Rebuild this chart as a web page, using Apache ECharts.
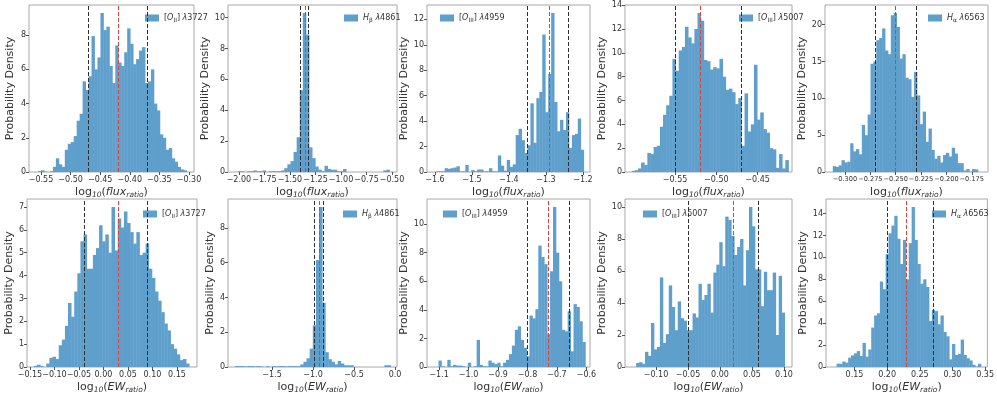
<!DOCTYPE html>
<html>
<head>
<meta charset="utf-8">
<script src="https://cdn.jsdelivr.net/npm/echarts@6/dist/echarts.min.js"></script>
<style>
html, body { margin: 0; padding: 0; background: #fff; }
#chart { width: 997px; height: 396px; }
</style>
</head>
<body>
<div id="chart"></div>
<script>
// emission lines, one panel per line (top: flux ratio, bottom: EW ratio)
const lineKeys = ['OII3727', 'Hb4861', 'OIII4959', 'OIII5007', 'Ha6563'];
const lineLabels = [
	'[{i|O}{sub|II}] {i|λ}3727',
	'{i|H}{sub|β} {i|λ}4861',
	'[{i|O}{sub|III}] {i|λ}4959',
	'[{i|O}{sub|III}] {i|λ}5007',
	'{i|H}{sub|α} {i|λ}6563'
];

// histogram densities, log10(flux_ratio)
const fluxOII = [0.05,0.1,0.03,0,0.05,0.3,0.8,0.45,0.3,1.3, 1.65,1.75,2.1,3.0,3.4,5.3,4.8,5.6,7.95,6.0, 6.7,9.3,8.3,8.5,6.2,5.2,7.4,6.4,6.2,7.0, 8.4,7.5,6.3,6.6,7.1,7.3,5.2,5.3,6.0,4.0, 3.6,2.2,2.0,1.3,1.4,0.8,0.6,0.3,0.15,0.1];
const fluxHb = [0.05,0.05,0,0.05,0.05,0.1,0.05,0.05,0.1,0, 0.05,0.05,0.05,0.05,0.1,0.25,0.5,0.7,1.3,2.25, 5.3,10.3,8.9,1.6,0.9,0.35,0.15,0.05,0.4,0.2, 0.15,0.15,0.05,0.05,0.2,0,0,0,0,0, 0,0,0,0,0,0,0,0.1,0.15,0];
const fluxOIII4959 = [0.05,0.05,0.05,0.3,0.25,0.3,0.35,0.45,0.05,0.05, 0.55,0,0.15,0.05,0.2,0.2,0.05,0.05,0.3,0.05, 0.05,1.3,0.5,0.1,0.95,0.4,0.6,2.9,3.4,2.5, 1.5,2.1,5.4,2.3,5.8,6.3,10.8,4.7,7.7,12.5, 5.5,3.2,4.1,3.3,4.7,1.9,2.9,3.0,4.2,1.75];
const fluxOIII5007 = [0.1,0.15,0.3,0.8,0.6,1.6,1.5,2.1,2.2,3.8, 4.8,5.6,6.4,9.5,8.5,10.2,10.5,12.2,11.3,10.8, 12.0,13.35,12.7,9.4,9.3,8.6,8.8,8.7,9.5,8.0, 6.9,7.0,6.7,5.7,6.2,2.2,6.6,3.4,4.0,9.0, 4.4,5.0,3.6,3.3,2.0,1.9,0.35,1.5,0.3,1.0];
const fluxHa = [0.8,0.7,0.9,1.6,1.3,1.4,3.9,2.8,3.1,2.4, 6.4,5.0,7.8,14.7,15.0,17.9,18.2,19.5,16.5,16.0, 21.3,21.6,19.7,15.4,16.0,12.8,12.6,10.2,13.6,10.4, 6.5,8.2,4.1,5.9,3.0,1.8,2.2,1.3,2.3,2.6, 2.1,3.3,2.5,1.2,1.2,0.2,0.4,0.05,0.4,0.35];

// histogram densities, log10(EW_ratio)
const ewOII = [0.05,0.1,0.05,0,0.15,0.4,0.45,0.35,0.95,1.2, 1.8,2.8,2.2,3.3,4.1,5.5,5.8,4.3,4.3,4.9, 5.2,6.2,5.5,5.8,5.0,7.0,5.1,6.5,6.1,6.8, 6.3,5.9,5.4,5.9,4.9,5.0,5.4,4.3,3.9,3.3, 2.9,2.4,1.9,1.6,1.0,0.8,0.55,0.3,0.35,0.15];
const ewHb = [0.05,0.05,0.05,0.03,0.05,0.05,0.03,0.05,0.03,0, 0.05,0,0.05,0.03,0.05,0.05,0.03,0.05,0.05,0.05, 0.05,0.15,0.3,0.5,1.05,2.4,6.15,9.2,3.7,0.85, 0.45,0.3,0.15,0.35,0.2,0.1,0.1,0.1,0,0, 0,0,0,0,0,0,0,0,0.1,0.1];
const ewOIII4959 = [0.45,0.05,0,0.5,0.05,0.15,0.1,0.1,0.05,0, 0.3,0,0.05,1.9,0.15,0.05,0.05,0.45,0.3,0.2, 0.3,0.05,0.3,0.5,0.9,1.5,2.6,2.85,1.9,1.35, 0.75,3.6,3.4,4.05,8.5,7.7,7.2,2.3,6.7,11.2, 8.0,6.0,2.6,2.5,3.9,1.1,4.4,4.2,3.2,1.75];
const ewOIII5007 = [0.25,0.3,0.2,0.95,0.7,2.75,1.1,1.25,5.6,1.5, 2.05,5.1,3.75,2.3,4.1,3.05,2.9,2.3,2.3,3.35, 3.1,5.2,4.2,4.5,5.2,3.4,5.9,6.4,7.8,6.3, 9.4,9.2,8.2,7.0,7.5,8.0,5.1,7.3,10.0,8.8, 6.1,6.1,3.8,5.95,4.8,4.8,5.9,2.0,5.7,3.4];
const ewHa = [0.3,0.3,0.5,0.4,0.85,1.05,1.25,1.45,1.0,2.2, 0.95,1.6,3.6,4.7,4.9,7.8,7.1,10.3,12.2,12.9, 13.8,11.7,9.4,11.6,8.0,11.3,14.6,11.6,9.4,7.6, 8.0,7.3,4.2,5.2,5.1,3.9,4.7,3.2,2.8,0.7, 2.1,1.1,1.2,2.5,1.1,0.8,0.6,0.2,0.05,0.3];

// binning: first edge and bin width of each histogram
const fluxBinStart = [-0.555, -2.010, -1.598, -0.6026, -0.312];
const fluxBinWidth = [0.00502, 0.0303, 0.008, 0.0038, 0.00286];
const ewBinStart = [-0.142, -1.953, -1.102, -0.131, 0.1226];
const ewBinWidth = [0.00634, 0.038, 0.00996, 0.00464, 0.00442];

// 16th / 50th / 84th percentiles (dashed lines)
const fluxQuantiles = [[-0.468,-0.423,-0.374], [-1.403,-1.354,-1.325], [-1.348,-1.295,-1.244], [-0.549,-0.516,-0.468], [-0.272,-0.2508,-0.228]];
const ewQuantiles = [[-0.036,0.027,0.086], [-0.984,-0.927,-0.882], [-0.797,-0.729,-0.664], [-0.052,0.02,0.064], [0.1966,0.2274,0.2685]];

// tick labels
const fluxXTicks = [[-0.55,-0.5,-0.45,-0.4,-0.35,-0.3], [-2,-1.75,-1.5,-1.25,-1,-0.75,-0.5], [-1.6,-1.5,-1.4,-1.3,-1.2], [-0.55,-0.5,-0.45], [-0.3,-0.275,-0.25,-0.225,-0.2,-0.175]];
const ewXTicks = [[-0.15,-0.1,-0.05,0,0.05,0.1,0.15], [-1.5,-1,-0.5,0], [-1.1,-1,-0.9,-0.8,-0.7,-0.6], [-0.1,-0.05,0,0.05,0.1], [0.15,0.2,0.25,0.3,0.35]];
const fluxXDecimals = [2, 2, 1, 2, 3];
const ewXDecimals = [2, 1, 1, 2, 2];
const fluxYTicks = [[0,2,4,6,8], [0,2,4,6,8,10], [0,2,4,6,8,10,12], [0,2,4,6,8,10,12,14], [0,5,10,15,20]];
const ewYTicks = [[0,1,2,3,4,5,6,7], [0,2,4,6,8], [0,2,4,6,8,10], [0,2,4,6,8,10], [0,2,4,6,8,10,12,14]];

// axis limits
const fluxXRange = [[-0.5703,-0.2915], [-2.107,-0.451], [-1.6216,-1.181], [-0.6107,-0.4083], [-0.3197,-0.159]];
const ewXRange = [[-0.156,0.191], [-2.037,0.024], [-1.141,-0.588], [-0.1484,0.1125], [0.1064,0.3535]];

// layout (px): [left, top, width, height]
const boxes = [
	[29, 5, 165, 167], [228, 5, 169, 167], [427, 5, 163, 167], [625, 5, 167, 167], [825, 5, 163, 167],
	[27, 199, 170, 168], [228, 199, 169, 168], [427, 199, 163, 168], [625, 199, 167, 168], [826, 199, 162, 168]
];
const legendPos = [[140,9],[339,9],[435,9],[734,9],[923,9],[138,205],[338,205],[438,205],[638,205],[927,205]];
const yNameGap = [13, 12, 11, 12, 12, 11, 12, 11, 12, 12];
const tickFont = [8, 8, 8, 8, 6.6, 8, 8, 8, 8, 8];

const FONT = 'DejaVu Sans';
const TXT = '#333';
const barColor = '#5f9fcc';
const subStyle = { fontSize: 6, fontFamily: FONT, color: TXT, padding: [5, 0, 0, 0] };

const fluxSeries = [fluxOII, fluxHb, fluxOIII4959, fluxOIII5007, fluxHa];
const ewSeries = [ewOII, ewHb, ewOIII4959, ewOIII5007, ewHa];

const fmtTick = function(d) {
	return function(v) {
		return v.toFixed(d).replace('-', '\u2212');
	};
};

let option = {
	animation: false,
	backgroundColor: '#fff',
	grid: [], xAxis: [], yAxis: [], series: [], legend: []
};
let labelOf = {};

for (let p = 0; p < 10; p++) {
	let row = p < 5 ? 0 : 1;
	let k = p % 5;
	let heights = row ? ewSeries[k] : fluxSeries[k];
	let start = row ? ewBinStart[k] : fluxBinStart[k];
	let width = row ? ewBinWidth[k] : fluxBinWidth[k];
	let quant = row ? ewQuantiles[k] : fluxQuantiles[k];
	let xt = row ? ewXTicks[k] : fluxXTicks[k];
	let yt = row ? ewYTicks[k] : fluxYTicks[k];
	let xr = row ? ewXRange[k] : fluxXRange[k];
	let dec = row ? ewXDecimals[k] : fluxXDecimals[k];
	let b = boxes[p];
	let name = (row ? 'ew-' : 'flux-') + lineKeys[k];
	labelOf[name] = lineLabels[k];

	option.grid.push({
		left: b[0], top: b[1], width: b[2], height: b[3],
		show: true, borderColor: '#a8a8a8', borderWidth: 1, backgroundColor: 'transparent'
	});
	option.xAxis.push({
		type: 'value', gridIndex: p, min: xr[0], max: xr[1],
		axisLine: { show: false, onZero: false },
		axisTick: { show: true, customValues: xt, length: 3, lineStyle: { color: '#555' } },
		axisLabel: {
			customValues: xt, formatter: fmtTick(dec), fontSize: tickFont[p], fontFamily: FONT, color: TXT, margin: 4,
			showMinLabel: true, showMaxLabel: true, hideOverlap: false
		},
		splitLine: { show: false },
		name: row ? '{n|log}{s|10}{n|(}{i|EW}{s|ratio}{n|)}' : '{n|log}{s|10}{n|(}{i|flux}{s|ratio}{n|)}',
		nameLocation: 'middle', nameGap: 13,
		nameTextStyle: {
			rich: {
				n: { fontSize: 11, fontFamily: FONT, color: TXT },
				i: { fontSize: 11, fontFamily: FONT, color: TXT, fontStyle: 'italic' },
				s: { fontSize: 7.5, fontFamily: FONT, color: TXT, fontStyle: 'italic', padding: [6, 0, 0, 0] }
			}
		}
	});
	option.yAxis.push({
		type: 'value', gridIndex: p, min: 0,
		max: function(v) { return v.max * 1.05; },
		axisLine: { show: false, onZero: false },
		axisTick: { show: true, customValues: yt, length: 3, lineStyle: { color: '#555' } },
		axisLabel: { customValues: yt, fontSize: 8, fontFamily: FONT, color: TXT, margin: 3, showMinLabel: true, showMaxLabel: true, hideOverlap: false },
		splitLine: { show: false },
		name: 'Probability Density', nameLocation: 'middle', nameGap: yNameGap[p],
		nameTextStyle: { fontSize: 11, fontFamily: FONT, color: TXT }
	});
	option.series.push({
		type: 'custom', name: name, xAxisIndex: p, yAxisIndex: p,
		itemStyle: { color: barColor },
		encode: { x: [0, 1], y: 2 },
		data: heights.map((h, i) => [start + i * width, start + (i + 1) * width, h]),
		renderItem: function(params, api) {
			let p0 = api.coord([api.value(0), api.value(2)]);
			let p1 = api.coord([api.value(1), 0]);
			return {
				type: 'rect',
				shape: { x: p0[0], y: p0[1], width: p1[0] - p0[0] + 0.4, height: p1[1] - p0[1] },
				style: { fill: barColor }
			};
		},
		markLine: {
			silent: true, symbol: 'none', animation: false,
			label: { show: false },
			data: quant.map((q, j) => ({
				xAxis: q,
				lineStyle: { color: j === 1 ? '#e0403a' : '#303030', type: [4, 2], width: 1 }
			}))
		}
	});
	option.legend.push({
		data: [name], left: legendPos[p][0], top: legendPos[p][1],
		icon: 'rect', itemWidth: 14, itemHeight: 7, selectedMode: false,
		formatter: function(n) { return labelOf[n]; },
		textStyle: {
			fontSize: 8, fontFamily: FONT, color: TXT,
			rich: {
				i: { fontSize: 8, fontFamily: FONT, color: TXT, fontStyle: 'italic' },
				sub: subStyle
			}
		}
	});
}

let myChart = echarts.init(document.getElementById('chart'), null, { renderer: 'canvas' });
myChart.setOption(option);
</script>
</body>
</html>
